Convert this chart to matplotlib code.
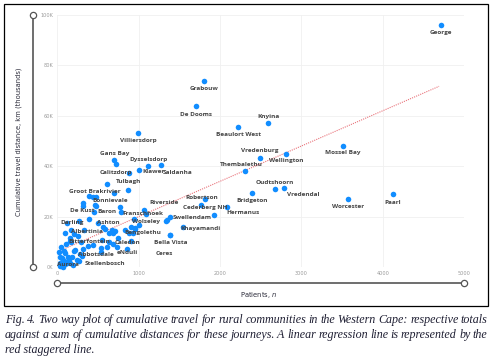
import matplotlib.pyplot as plt
import matplotlib.transforms as mtransforms
from matplotlib.patches import Rectangle

# Labelled communities: patients (n) and cumulative distance (km)
town_names = ["George", "Grabouw", "De Dooms", "Villiersdorp", "Beaulort West", "Knyina",
              "Vredenburg", "Wellington", "Mossel Bay", "Thembalethu", "Oudtshoorn", "Vredendal",
              "Bridgeton", "Hermanus", "Robertson", "Cederberg NH", "Worcester", "Paarl",
              "Swellendam", "Khayamandi", "Riverside", "Franschhoek", "Wolseley", "Bengolethu",
              "Bella Vista", "Ceres", "Caledon", "Bitterfontein", "eNduli", "Abbotsdale",
              "Aurora", "Stellenbosch", "Albertinia", "Darling", "Ashton", "De Kust", "Baron",
              "Bonnievale", "Groot Brakrivier", "Tulbagh", "Calitzdorp", "Klawer", "Saldanha",
              "Dysselsdorp", "Gans Bay"]
town_patients = [4710, 1800, 1700, 990, 2220, 2590,
                 2490, 2810, 3510, 2300, 2670, 2790,
                 2390, 2090, 1770, 1820, 3570, 4120,
                 1390, 1540, 1070, 780, 940, 900,
                 1390, 1390, 750, 290, 730, 320,
                 35, 240, 205, 115, 500, 470, 450,
                 700, 440, 870, 880, 1000, 1280,
                 1120, 700]
town_distance = [96100, 74000, 63700, 53200, 55700, 57300,
                 43400, 45000, 48200, 38000, 30800, 31200,
                 29400, 23900, 24800, 26800, 27000, 28800,
                 19900, 15700, 22800, 21800, 19100, 15700,
                 12800, 12800, 11500, 9900, 7800, 7000,
                 4100, 2800, 13100, 17300, 17300, 24400, 21800,
                 29400, 27800, 30500, 37300, 38400, 40400,
                 40100, 42400]

# Remaining (unlabelled) communities
other_patients = [725, 610, 390, 475, 310, 320, 460, 770, 1090, 1345, 1340, 1930,
                  1000, 960, 590, 670, 710, 880, 950, 385, 270, 170, 100, 330, 560,
                  640, 690, 835, 930, 160, 435, 535, 640, 855, 80, 200, 540, 610,
                  165, 550, 680, 900, 35, 75, 135, 280, 35, 115, 195, 75, 155, 265,
                  60, 90, 130, 180, 220, 45, 105, 150, 250, 20, 60, 95, 140, 300, 380]
other_distance = [40800, 33100, 28100, 27600, 25200, 24400, 24500, 23900, 21000, 18500,
                  18200, 20700, 16800, 15200, 14900, 14700, 14400, 13600, 15400, 18900,
                  18100, 14700, 13300, 14700, 16000, 13300, 13600, 14700, 13300, 10400,
                  8600, 7500, 9900, 7200, 6500, 6200, 5900, 7800, 9900, 10700, 9100,
                  10200, 1500, 2800, 4100, 5100, 300, 1500, 800, 0, 1700, 2500, 3500,
                  5500, 2200, 3800, 6800, 8000, 9000, 11500, 12200, 6000, 500, 1000,
                  3000, 4500, 8500]

# Linear regression line
trend_patients = [0, 4690]
trend_distance = [6000, 71700]

y_ticks = [0, 20000, 40000, 60000, 80000, 100000]
y_tick_labels = ["0K", "20K", "40K", "60K", "80K", "100K"]
x_ticks = [0, 1000, 2000, 3000, 4000, 5000]

# label offsets in pixels (dx right, dy down) from the dot
label_offsets = {
    "George": (0, 8), "Grabouw": (0, 8), "De Dooms": (0, 8), "Villiersdorp": (0, 8),
    "Beaulort West": (0, 8), "Knyina": (0, -6), "Vredenburg": (0, -7), "Wellington": (0, 7),
    "Mossel Bay": (0, 7), "Thembalethu": (-3, -7), "Oudtshoorn": (0, -7), "Vredendal": (19, 6),
    "Bridgeton": (0, 8), "Hermanus": (16, 6), "Robertson": (0, -7), "Cederberg NH": (0, 8),
    "Worcester": (0, 8), "Paarl": (0, 8), "Swellendam": (22, 1), "Khayamandi": (18, 1),
    "Riverside": (20, -7), "Franschhoek": (22, 1), "Wolseley": (12, 3), "Bengolethu": (12, 5),
    "Bella Vista": (0, 8), "Ceres": (-6, 19), "Caledon": (9, 4), "Bitterfontein": (8, -1),
    "eNduli": (11, 5), "Abbotsdale": (13, 5), "Aurora": (8, 8), "Stellenbosch": (28, 4),
    "Albertinia": (13, -2), "Darling": (5, -1), "Ashton": (10, -1), "De Kust": (-13, 5),
    "Baron": (13, -1), "Bonnievale": (-4, 8), "Groot Brakrivier": (2, -5), "Tulbagh": (0, -9),
    "Calitzdorp": (-13, -1), "Klawer": (15, 1), "Saldanha": (16, 7), "Dysselsdorp": (0, -6),
    "Gans Bay": (0, -7),
}

W, H = 495, 363
fig = plt.figure(figsize=(W / 100, H / 100), dpi=100)
ax = fig.add_axes([57.3 / W, 1 - 267 / H, 407 / W, 252 / H])
ax.set_xlim(0, 5000)
ax.set_ylim(0, 100000)
for s in ax.spines.values():
    s.set_visible(False)
ax.set_xticks(x_ticks)
ax.set_yticks(y_ticks)
ax.set_yticklabels(y_tick_labels)
ax.tick_params(length=0, labelsize=3.6, labelcolor="#9a9a9a", pad=3)
ax.grid(True, color="#f0f0f0", lw=0.6)
ax.set_axisbelow(True)

blue = "#118DFF"
ax.scatter(other_patients, other_distance, s=16, color=blue, zorder=3, clip_on=False, linewidths=0)
ax.scatter(town_patients, town_distance, s=16, color=blue, zorder=3, clip_on=False, linewidths=0)
ax.plot(trend_patients, trend_distance, color="#e9737b", lw=0.8, ls=(0, (1, 1)), zorder=2)

for name, px, py in zip(town_names, town_patients, town_distance):
    dx, dy = label_offsets[name]
    ax.annotate(name, (px, py), xytext=(dx, -dy), textcoords="offset pixels",
                ha="center", va="center", fontsize=4.6, fontweight="bold",
                color="#444444", family="Open Sans", zorder=4)

# slider-like axis bars
slider = "#555555"
vtrans = mtransforms.blended_transform_factory(fig.transFigure, ax.transData)
ax.plot([33.3 / W] * 2, ax.get_ylim(), transform=vtrans, color=slider, lw=1.2, clip_on=False,
        marker="o", markersize=4.5, markerfacecolor="white", markeredgecolor=slider,
        markeredgewidth=0.9)
htrans = mtransforms.blended_transform_factory(ax.transData, fig.transFigure)
ax.plot(ax.get_xlim(), [1 - 282.7 / H] * 2, transform=htrans, color=slider, lw=1.2, clip_on=False,
        marker="o", markersize=4.5, markerfacecolor="white", markeredgecolor=slider,
        markeredgewidth=0.9)

fig.text(18.3 / W, 1 - 142 / H, "Cumulative travel distance, km (thousands)", rotation=90,
         ha="center", va="center", fontsize=4.9, color="#2b2b3a")
fig.text(259 / W, 1 - 295 / H, "Patients, $\\it{n}$", ha="center", va="center",
         fontsize=4.9, color="#2b2b3a")

# border around chart
fig.add_artist(Rectangle((4 / W, 1 - 306 / H), 484 / W, 302 / H, fill=False,
                         lw=0.9, edgecolor="black", transform=fig.transFigure))

# justified caption
caption = [
    "Fig. 4. Two way plot of cumulative travel for rural communities in the Western Cape: respective totals",
    "against a sum of cumulative distances for these journeys. A linear regression line is represented by the",
    "red staggered line.",
]
renderer = fig.canvas.get_renderer()
left, right = 4.7, 487.7
cap_style = dict(fontsize=8.65, style="italic", family="Liberation Serif", color="#1f1f33",
                 va="center", ha="left")
for i, line in enumerate(caption):
    y = 1 - (320 + 15 * i) / H
    words = line.split()
    if i == len(caption) - 1:
        fig.text(left / W, y, line, **cap_style)
        continue
    texts = [fig.text(0, y, w, **cap_style) for w in words]
    widths = [t.get_window_extent(renderer).width for t in texts]
    gap = (right - left - sum(widths)) / (len(words) - 1)
    x = left
    for t, w in zip(texts, widths):
        t.set_x(x / W)
        x += w + gap

fig.savefig("out.png", dpi=100)
